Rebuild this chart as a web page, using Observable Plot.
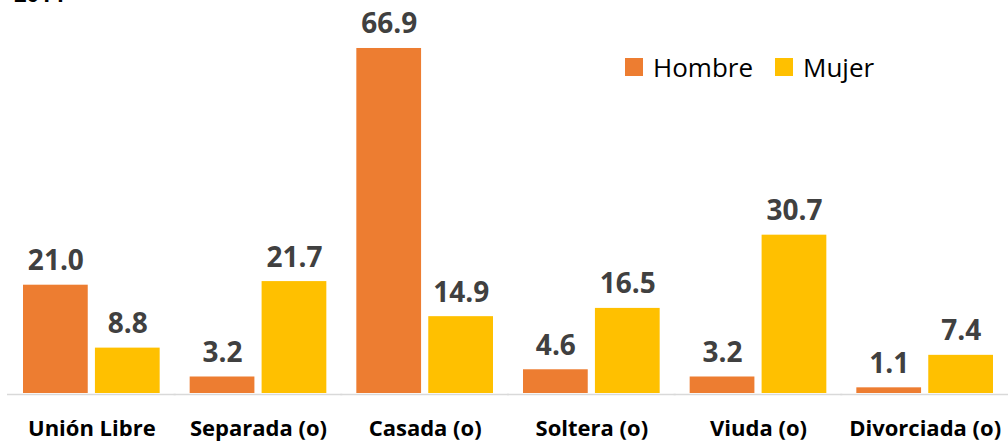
<!DOCTYPE html>
<html>
<head>
<meta charset="utf-8">
<script src="https://cdn.jsdelivr.net/npm/d3@7"></script>
<script src="https://cdn.jsdelivr.net/npm/@observablehq/plot@0.6"></script>
<style>
  html, body { margin: 0; padding: 0; background: #fff; overflow: hidden; }
  #wrap { position: relative; width: 1008px; height: 444px; font-family: "Open Sans", sans-serif; }
  #title { position: absolute; left: 14px; top: -22px; font-weight: bold; font-size: 22px; color: #000; }
  #legend { position: absolute; left: 625px; top: 49px; display: flex; align-items: center; font-size: 26px; color: #000; }
  #legend .sw { width: 18px; height: 18px; display: inline-block; margin-right: 10px; }
  #legend .item { display: flex; align-items: center; margin-right: 22px; }
</style>
</head>
<body>
<div id="wrap">
  <div id="chart"></div>
  <div id="title">2014</div>
  <div id="legend"></div>
</div>
<script>
const categories = ["Unión Libre", "Separada (o)", "Casada (o)", "Soltera (o)", "Viuda (o)", "Divorciada (o)"];
const series = ["Hombre", "Mujer"];
const hombre = [21.0, 3.2, 66.9, 4.6, 3.2, 1.1];
const mujer = [8.8, 21.7, 14.9, 16.5, 30.7, 7.4];
const colors = ["#ED7D31", "#FFC000"];

const data = [];
categories.forEach((c, i) => {
  data.push({cat: c, sex: series[0], value: hombre[i]});
  data.push({cat: c, sex: series[1], value: mujer[i]});
});

const chart = Plot.plot({
  width: 1008,
  height: 444,
  marginLeft: 8,
  marginRight: 0,
  marginTop: 32,
  marginBottom: 51,
  style: {fontFamily: "'Open Sans', sans-serif", background: "#fff"},
  fx: {domain: categories, paddingInner: 0.18, paddingOuter: 0.09, round: false, label: null},
  x: {domain: series, paddingInner: 0.1, paddingOuter: 0, round: false, axis: null},
  y: {domain: [0, 70], axis: null},
  color: {domain: series, range: colors},
  marks: [
    Plot.ruleY([0], {stroke: "#d9d9d9", strokeWidth: 1.5, dy: 1, insetLeft: -16, insetRight: -16}),
    Plot.barY(data, {fx: "cat", x: "sex", y: "value", fill: "sex"}),
    Plot.text(data, {fx: "cat", x: "sex", y: "value", text: d => d.value.toFixed(1),
      lineAnchor: "bottom", dy: -15, fill: "#404040", fontSize: 28, fontWeight: "bold"}),
    Plot.axisFx({anchor: "bottom", tickSize: 0, tickPadding: 27, fontSize: 22, fontWeight: "bold", fill: "#000", label: null})
  ]
});
document.getElementById("chart").appendChild(chart);

const legend = document.getElementById("legend");
series.forEach((s, i) => {
  const it = document.createElement("div");
  it.className = "item";
  const sw = document.createElement("span");
  sw.className = "sw";
  sw.style.background = colors[i];
  const t = document.createElement("span");
  t.textContent = s;
  it.appendChild(sw); it.appendChild(t);
  legend.appendChild(it);
});
</script>
</body>
</html>
